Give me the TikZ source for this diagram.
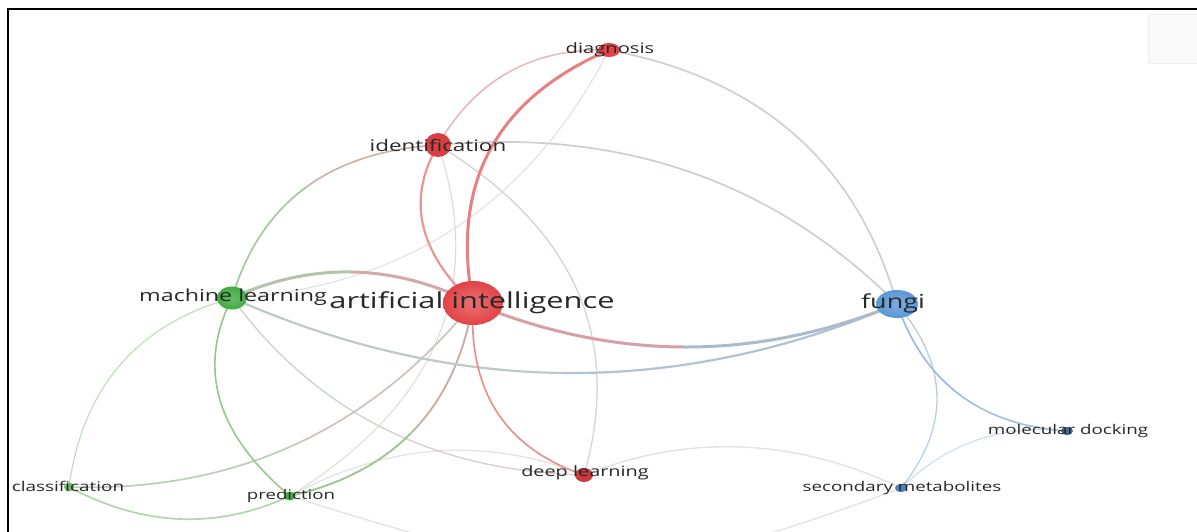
\documentclass[tikz,border=0pt]{standalone}
\usepackage{fontspec}
\setmainfont{Open Sans}
\usepackage{graphicx}
\usetikzlibrary{calc,shapes.geometric}
\definecolor{cred}{RGB}{226,66,70}
\definecolor{cgreen}{RGB}{66,172,66}
\definecolor{cblue}{RGB}{92,152,214}
\definecolor{ctext}{RGB}{40,40,40}
\newcommand{\wide}[1]{\scalebox{1.4}[1]{#1}}
% curved edge: from, to, mid point, colour near from, colour near to, width
\newcommand{\vedge}[6]{%
  \coordinate (qa) at (#1.center);
  \coordinate (qb) at (#2.center);
  \coordinate (qm) at #3;
  \coordinate (qq) at ($2*(qm)-0.5*(qa)-0.5*(qb)$);
  \coordinate (qh1) at ($(qa)!0.5!(qq)$);
  \coordinate (qh2) at ($(qb)!0.5!(qq)$);
  \draw[line width=#6, line cap=round, color=#4] (qa) .. controls ($(qa)!2/3!(qh1)$) and ($(qm)!2/3!(qh1)$) .. (qm);
  \draw[line width=#6, line cap=round, color=#5] (qm) .. controls ($(qm)!2/3!(qh2)$) and ($(qb)!2/3!(qh2)$) .. (qb);
}
\begin{document}
\begin{tikzpicture}[x=1pt,y=-1pt,
  vnode/.style={ellipse, inner sep=0pt, draw=none},
  lbl/.style={inner sep=0pt, text=ctext}]
\useasboundingbox (0,0) rectangle (1197,532);
\clip (0,0) rectangle (1197,532);
\fill[white] (0,0) rectangle (1197,532);

% node positions
\coordinate (ai) at (473,303);
\coordinate (ml) at (232,298);
\coordinate (fungi) at (897,304);
\coordinate (ident) at (438,145);
\coordinate (diag) at (609,50);
\coordinate (deep) at (584,475);
\coordinate (class) at (69,487);
\coordinate (pred) at (290,496);
\coordinate (mol) at (1067,431);
\coordinate (sec) at (901,488);
\coordinate (hid) at (600,580);

% faint edges
\vedge{ml}{diag}{(455,228)}{{rgb,255:red,222;green,226;blue,220}}{{rgb,255:red,228;green,222;blue,222}}{1}
\vedge{ident}{pred}{(437,340)}{{rgb,255:red,222;green,215;blue,215}}{{rgb,255:red,215;green,222;blue,212}}{1}
\vedge{pred}{hid}{(445,542)}{{rgb,255:red,222;green,230;blue,222}}{{rgb,255:red,228;green,228;blue,228}}{1.3}
\vedge{sec}{hid}{(755,538)}{{rgb,255:red,222;green,228;blue,234}}{{rgb,255:red,228;green,228;blue,228}}{1.3}
\vedge{deep}{sec}{(742,447)}{{rgb,255:red,230;green,224;blue,224}}{{rgb,255:red,222;green,228;blue,234}}{1.4}
\vedge{pred}{deep}{(437,451)}{{rgb,255:red,222;green,230;blue,222}}{{rgb,255:red,230;green,224;blue,224}}{1.3}
\vedge{mol}{sec}{(977,440)}{{rgb,255:red,205;green,218;blue,230}}{{rgb,255:red,205;green,218;blue,230}}{1}
\vedge{ident}{deep}{(577,290)}{{rgb,255:red,218;green,208;blue,208}}{{rgb,255:red,218;green,210;blue,212}}{1.3}
\vedge{ml}{deep}{(383,428)}{{rgb,255:red,205;green,214;blue,205}}{{rgb,255:red,218;green,208;blue,208}}{1.4}
\vedge{ml}{class}{(120,365)}{{rgb,255:red,195;green,222;blue,190}}{{rgb,255:red,195;green,222;blue,190}}{1.2}
\vedge{ident}{fungi}{(690,172)}{{rgb,255:red,212;green,204;blue,204}}{{rgb,255:red,204;green,208;blue,214}}{1.7}
\vedge{diag}{fungi}{(795,135)}{{rgb,255:red,214;green,206;blue,206}}{{rgb,255:red,204;green,208;blue,216}}{1.7}
\vedge{fungi}{sec}{(937,396)}{{rgb,255:red,180;green,205;blue,228}}{{rgb,255:red,185;green,208;blue,228}}{1.3}
\vedge{class}{pred}{(180,519)}{{rgb,255:red,180;green,214;blue,175}}{{rgb,255:red,180;green,214;blue,175}}{1.7}
\vedge{class}{ai}{(294,445)}{{rgb,255:red,190;green,206;blue,186}}{{rgb,255:red,205;green,195;blue,190}}{1.7}
\vedge{ml}{pred}{(220,400)}{{rgb,255:red,150;green,200;blue,140}}{{rgb,255:red,150;green,200;blue,140}}{1.6}
\vedge{pred}{ai}{(414,430)}{{rgb,255:red,160;green,198;blue,150}}{{rgb,255:red,200;green,175;blue,165}}{1.9}
\vedge{ml}{ident}{(305,188)}{{rgb,255:red,170;green,200;blue,160}}{{rgb,255:red,205;green,180;blue,170}}{1.7}
\vedge{ident}{diag}{(509,72)}{{rgb,255:red,232;green,180;blue,180}}{{rgb,255:red,232;green,185;blue,185}}{1.5}
\vedge{fungi}{mol}{(960,395)}{{rgb,255:red,150;green,186;blue,222}}{{rgb,255:red,160;green,192;blue,224}}{1.6}
\vedge{ml}{fungi}{(565,373)}{{rgb,255:red,190;green,202;blue,196}}{{rgb,255:red,176;green,194;blue,212}}{2.2}
\vedge{ai}{deep}{(497,412)}{{rgb,255:red,232;green,140;blue,140}}{{rgb,255:red,232;green,140;blue,140}}{1.6}
\vedge{ml}{ai}{(352,272)}{{rgb,255:red,180;green,196;blue,170}}{{rgb,255:red,212;green,170;blue,168}}{3}
\vedge{ai}{ident}{(423,225)}{{rgb,255:red,232;green,150;blue,150}}{{rgb,255:red,230;green,150;blue,150}}{2.2}
\vedge{ai}{fungi}{(685,347)}{{rgb,255:red,218;green,158;blue,166}}{{rgb,255:red,172;green,186;blue,206}}{3}
\vedge{ai}{diag}{(490,150)}{{rgb,255:red,232;green,128;blue,130}}{{rgb,255:red,232;green,128;blue,130}}{3}

% nodes
\node[vnode, minimum width=60pt, minimum height=44pt, inner color=cred!75!white, outer color=cred] (ain) at (ai) {};
\node[vnode, minimum width=30pt, minimum height=23pt, inner color=cgreen!80!white, outer color=cgreen] (mln) at (ml) {};
\node[vnode, minimum width=42pt, minimum height=28pt, inner color=cblue!80!white, outer color=cblue] (fungin) at (fungi) {};
\node[vnode, minimum width=26pt, minimum height=24pt, fill=cred!95!black] (identn) at (ident) {};
\node[vnode, minimum width=22pt, minimum height=14pt, fill=cred] (diagn) at (diag) {};
\node[vnode, minimum width=18pt, minimum height=14pt, fill=cred!90!black] (deepn) at (deep) {};
\node[vnode, minimum width=10pt, minimum height=9pt, fill=cgreen!80!white] (classn) at (class) {};
\node[vnode, minimum width=11pt, minimum height=9pt, fill=cgreen] (predn) at (pred) {};
\node[vnode, minimum width=12pt, minimum height=8pt, fill=cblue!70!black] (moln) at (mol) {};
\node[vnode, minimum width=12pt, minimum height=8pt, fill=cblue!85!black] (secn) at (sec) {};

% labels
\node[lbl, font=\fontsize{22}{26}\selectfont] (ailbl) at (472,303) {\wide{artificial intelligence}};
\node[lbl, font=\fontsize{16.6}{19}\selectfont] (mllbl) at (233,297) {\wide{machine learning}};
\node[lbl, font=\fontsize{19.3}{22}\selectfont] (fungilbl) at (893,303) {\wide{fungi}};
\node[lbl, font=\fontsize{16}{19}\selectfont] (identlbl) at (438,145) {\wide{identification}};
\node[lbl, font=\fontsize{14.4}{17}\selectfont] (diaglbl) at (610,50) {\wide{diagnosis}};
\node[lbl, font=\fontsize{14.2}{17}\selectfont] (deeplbl) at (585,473) {\wide{deep learning}};
\node[lbl, font=\fontsize{13.5}{16}\selectfont] (classlbl) at (68,486) {\wide{classification}};
\node[lbl, font=\fontsize{13.3}{16}\selectfont] (predlbl) at (291,496) {\wide{prediction}};
\node[lbl, font=\fontsize{13.4}{16}\selectfont] (mollbl) at (1068,431) {\wide{molecular docking}};
\node[lbl, font=\fontsize{13.4}{16}\selectfont] (seclbl) at (902,488) {\wide{secondary metabolites}};

% faint navigation box
\draw[draw={rgb,255:red,238;green,238;blue,238}, fill={rgb,255:red,250;green,250;blue,250}] (1148,14) rectangle (1200,63);

% frame (top and left)
\draw[line width=2pt, black] (8,532) -- (8,9) -- (1197,9);
\end{tikzpicture}
\end{document}
